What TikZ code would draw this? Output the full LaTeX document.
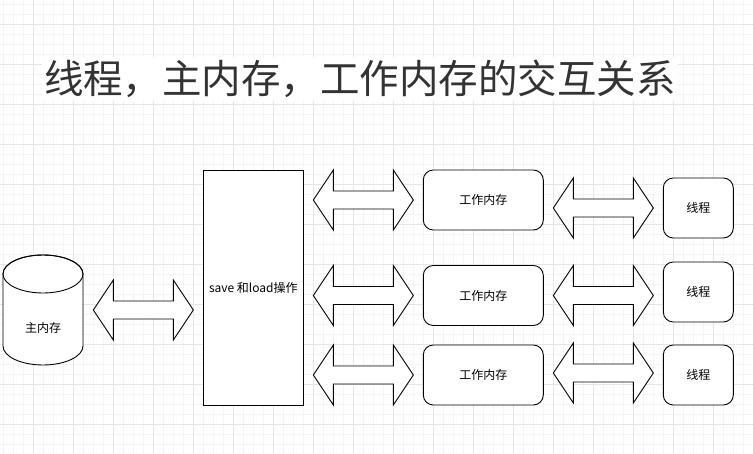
\documentclass[tikz,border=0pt]{standalone}
\usepackage{fontspec}
\setmainfont{Noto Sans CJK SC}
\definecolor{gridminor}{HTML}{F4F4F4}
\definecolor{gridmajor}{HTML}{E6E6E6}
\definecolor{titlegray}{HTML}{333333}
\newcommand\mydarrow[3]{\draw[arr] (#1,#3) -- ({#1+20},{#3-30}) -- ({#1+20},{#3-9}) -- ({#2-20},{#3-9}) -- ({#2-20},{#3-30}) -- (#2,#3) -- ({#2-20},{#3+30}) -- ({#2-20},{#3+9}) -- ({#1+20},{#3+9}) -- ({#1+20},{#3+30}) -- cycle;}
\tikzset{
  minor/.style={draw=gridminor, line width=1pt},
  major/.style={draw=gridmajor, line width=1pt},
  arr/.style={draw=black, fill=white, line width=0.9pt, line join=miter},
  box/.style={draw=black, fill=white, line width=0.9pt, inner sep=0pt, font=\fontsize{12}{14}\selectfont},
  wbox/.style={box, rounded corners=10pt, minimum width=120pt, minimum height=60pt},
  tbox/.style={box, rounded corners=10pt, minimum width=70pt, minimum height=60pt},
  lbl/.style={inner sep=0pt, font=\fontsize{12}{14}\selectfont}
}
\begin{document}
\begin{tikzpicture}[x=1pt,y=-1pt]
\useasboundingbox (0,0) rectangle (753,454);
\fill[white] (0,0) rectangle (753,454);
% grid
\foreach \i in {0,...,75} {\draw[minor] ({3.3+10*\i},0) -- ({3.3+10*\i},454);}
\foreach \j in {0,...,45} {\draw[minor] (0,{5+10*\j}) -- (753,{5+10*\j});}
\foreach \i in {0,...,18} {\draw[major] ({33.3+40*\i},0) -- ({33.3+40*\i},454);}
\foreach \j in {0,...,10} {\draw[major] (0,{25+40*\j}) -- (753,{25+40*\j});}
% title
\fill[white] (42,57) rectangle (678,101);
\node[inner sep=0pt, text=titlegray, font=\fontsize{39.5}{40}\selectfont] (title) at (360,79) {线程，主内存，工作内存的交互关系};
% main memory cylinder
\draw[line width=0.9pt, fill=white] (3,274) -- (3,346) arc[start angle=180, end angle=360, x radius=40pt, y radius=19pt] -- (83,274) arc[start angle=0, end angle=180, x radius=40pt, y radius=19pt] -- cycle;
\draw[line width=0.9pt] (43,274) ellipse [x radius=40pt, y radius=19pt];
\node[lbl] (mm) at (43,328) {主内存};
% save/load box
\node[box, minimum width=100pt, minimum height=235pt] (sl) at (253.3,287.5) {save 和load操作};
% working memories
\node[wbox] (w1) at (483.3,200) {工作内存};
\node[wbox] (w2) at (483.3,295.5) {工作内存};
\node[wbox] (w3) at (483.3,375) {工作内存};
% threads
\node[tbox] (t1) at (698.3,208) {线程};
\node[tbox] (t2) at (698.3,292) {线程};
\node[tbox] (t3) at (698.3,375) {线程};
% double arrows
\mydarrow{93.3}{193.3}{310}
\mydarrow{313.3}{413.3}{200}
\mydarrow{313.3}{413.3}{295.5}
\mydarrow{313.3}{413.3}{375}
\mydarrow{553.3}{653.3}{208}
\mydarrow{553.3}{653.3}{295.5}
\mydarrow{553.3}{653.3}{373}
\end{tikzpicture}
\end{document}
